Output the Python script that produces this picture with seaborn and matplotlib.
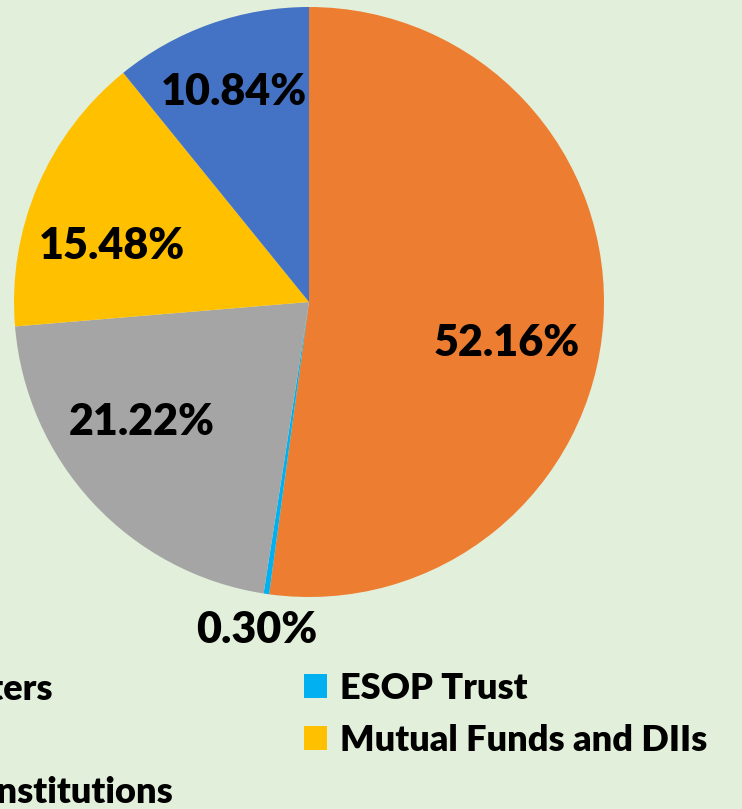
import matplotlib
matplotlib.use('Agg')
import matplotlib.pyplot as plt
import seaborn as sns
from matplotlib.patches import Patch

# Shareholding pattern (slices in Excel order, clockwise from 12 o'clock)
categories = ["Promoters", "ESOP Trust", "Public", "Mutual Funds and DIIs", "Other Institutions"]
shares = [52.16, 0.30, 21.22, 15.48, 10.84]
colors = ["#ED7D31", "#00B0F0", "#A5A5A5", "#FFC000", "#4472C4"]

# where the data labels sit, in pie units (radius = 1)
label_xy = [(0.671, -0.139), (-0.176, -1.112), (-0.566, -0.407), (-0.668, 0.190), (-0.254, 0.712)]

BG = "#E2EFDA"
W, H = 742, 809

sns.set_theme(style="white")
plt.rcParams['font.family'] = ['Lato', 'DejaVu Sans']

fig = plt.figure(figsize=(W / 100, H / 100), dpi=100, facecolor=BG)

# pie centre and radius in pixels (the picture is cropped on the left)
cx, cy, r = 309, 302, 295
ax = fig.add_axes([(cx - r) / W, (H - cy - r) / H, 2 * r / W, 2 * r / H])
ax.pie(shares, colors=colors, startangle=90, counterclock=False, radius=1,
       wedgeprops=dict(linewidth=0))
ax.set_xlim(-1, 1)
ax.set_ylim(-1, 1)
ax.set_aspect('equal')
ax.axis('off')

for val, (x, y) in zip(shares, label_xy):
    ax.text(x, y, f"{val:.2f}%", ha='center', va='center', fontsize=31,
            fontweight='heavy', color='black', clip_on=False)

# legend: two columns, filled row-wise like Excel
handles = [Patch(facecolor=c, edgecolor='none') for c in colors]
kw = dict(frameon=False, prop=dict(weight='heavy', size=26), labelcolor='black',
          handlelength=0.64, handleheight=0.64, handletextpad=0.36, borderpad=0,
          borderaxespad=0, labelspacing=0.52)
col1 = [0, 2, 4]
col2 = [1, 3]
fig.legend([handles[i] for i in col1], [categories[i] for i in col1],
           loc='center left', bbox_to_anchor=(-156 / W, 1 - 741 / H), **kw)
fig.legend([handles[i] for i in col2], [categories[i] for i in col2],
           loc='center left', bbox_to_anchor=(304 / W, 1 - 714.5 / H), **kw)

fig.savefig('out.png', dpi=100, facecolor=BG)
